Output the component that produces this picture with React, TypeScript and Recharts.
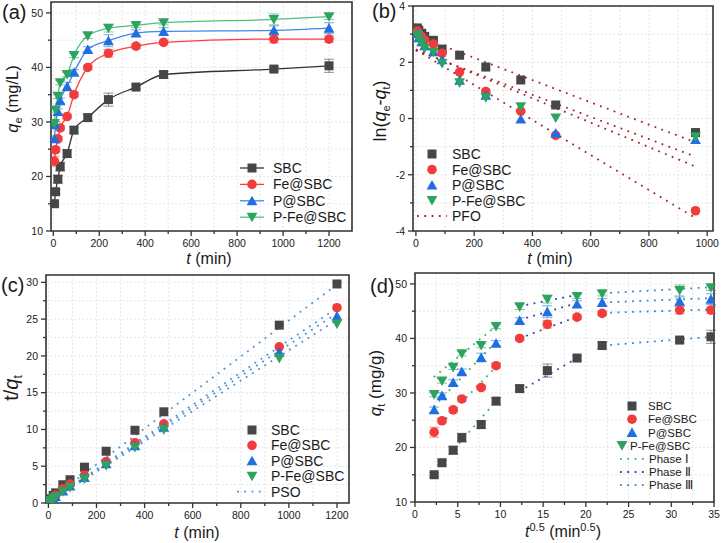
import React from "react";
import {
  ComposedChart,
  Scatter,
  Line,
  XAxis,
  YAxis,
  CartesianGrid,
  ReferenceArea,
  ErrorBar,
} from "recharts";

const FONT = '"Liberation Sans", Arial, Helvetica, sans-serif';
const INK = "#333333";

// sampling times (min) and their square roots
const times = [5, 10, 20, 30, 60, 90, 150, 240, 360, 480, 960, 1200];
const sqrtTimes = [2.24, 3.16, 4.47, 5.48, 7.75, 9.49, 12.25, 15.49, 18.97, 21.91, 30.98, 34.64];

// (a)/(d) adsorbed amount qt
const qSBC = [15.0, 17.2, 19.5, 21.8, 24.2, 28.5, 30.8, 34.1, 36.4, 38.7, 39.7, 40.3];
const qFe = [22.8, 24.9, 26.9, 28.9, 31.0, 35.0, 40.0, 42.6, 43.9, 44.6, 45.2, 45.2];
const qP = [26.9, 29.5, 31.9, 33.9, 36.5, 39.1, 43.3, 44.9, 46.3, 46.6, 46.8, 47.2];
const qPFe = [29.7, 32.2, 34.7, 37.2, 38.7, 42.2, 45.8, 47.2, 47.7, 48.2, 48.8, 49.3];

const errSBC = [0.4, 0.4, 0.7, 0.8, 0.7, 0.6, 0.6, 1.2, 0.4, 0.6, 0.4, 1.2];
const errFe = [0.9, 0.4, 0.4, 0.4, 0.4, 0.4, 0.4, 0.7, 0.4, 0.4, 0.7, 0.6];
const errP = [0.5, 0.5, 0.5, 0.5, 0.8, 0.5, 0.5, 1.1, 0.6, 0.7, 0.8, 1.0];
const errPFe = [0.4, 0.4, 0.4, 0.4, 0.4, 0.4, 0.5, 0.7, 0.4, 0.4, 1.0, 0.5];

// (b) ln(qe - qt), t = 5 ... 960
const lnSBC = [3.22, 3.14, 3.03, 2.92, 2.78, 2.47, 2.25, 1.83, 1.37, 0.48, -0.5];
const lnFe = [3.11, 3.01, 2.91, 2.79, 2.65, 2.32, 1.65, 0.96, 0.26, -0.6, -3.28];
const lnP = [3.01, 2.87, 2.73, 2.59, 2.37, 2.09, 1.36, 0.83, -0.02, -0.52, -0.75];
const lnPFe = [2.98, 2.84, 2.68, 2.49, 2.36, 1.96, 1.27, 0.74, 0.42, 0.02, -0.65];

// PFO fit lines (t = 0 and 960)
const pfoT = [0, 960];
const pfoSBC = [2.95, -0.85];
const pfoFe = [2.44, -3.54];
const pfoP = [2.46, -1.71];
const pfoPFe = [2.42, -1.36];

// (c) t/qt
const tqSBC = [0.33, 0.58, 1.03, 1.38, 2.48, 3.16, 4.87, 7.04, 9.89, 12.4, 24.18, 29.78];
const tqFe = [0.22, 0.4, 0.74, 1.04, 1.94, 2.57, 3.75, 5.63, 8.2, 10.76, 21.24, 26.55];
const tqP = [0.19, 0.34, 0.63, 0.88, 1.64, 2.3, 3.46, 5.35, 7.78, 10.3, 20.51, 25.42];
const tqPFe = [0.17, 0.31, 0.58, 0.81, 1.55, 2.13, 3.28, 5.08, 7.55, 9.96, 19.67, 24.34];

// PSO fit lines (t = 0 and 1200)
const psoT = [0, 1200];
const psoSBC = [0.35, 29.7];
const psoFe = [0.2, 26.5];
const psoP = [0.15, 25.8];
const psoPFe = [0.12, 24.9];

// (d) intraparticle diffusion segments
const ph1X = [[2.9, 10], [3.0, 10], [2.2, 9.6], [2.2, 9.6]];
const ph1Y = [[16.7, 29.4], [24.3, 35.6], [27.5, 39.6], [32.9, 42.4]];
const ph2X = [12.2, 19.0];
const ph2Y = [[30.3, 36.4], [40.0, 44.0], [43.4, 46.5], [45.9, 48.0]];
const ph3X = [22.0, 34.8];
const ph3Y = [[38.7, 40.3], [44.7, 45.3], [46.6, 47.4], [48.3, 49.4]];

// tick labels
const tA = [0, 200, 400, 600, 800, 1000, 1200];
const tAminor = [100, 300, 500, 700, 900, 1100];
const tB = [0, 200, 400, 600, 800, 1000];
const tBminor = [100, 300, 500, 700, 900];
const qTicks = [10, 20, 30, 40, 50];
const qMinor = [15, 25, 35, 45];
const lnTicks = [-4, -2, 0, 2, 4];
const lnMinor = [-3, -1, 1, 3];
const tqTicks = [0, 5, 10, 15, 20, 25, 30];
const tqMinor = [2.5, 7.5, 12.5, 17.5, 22.5, 27.5];
const sTicks = [0, 5, 10, 15, 20, 25, 30, 35];
const sMinor = [2.5, 7.5, 12.5, 17.5, 22.5, 27.5, 32.5];

const names = ["SBC", "Fe@SBC", "P@SBC", "P-Fe@SBC"];
type Kind = "square" | "circle" | "up" | "down";
const kinds: Kind[] = ["square", "circle", "up", "down"];
const markColors = ["#464646", "#f23c3c", "#1f6fe0", "#2ea35f"];
const lineColors = ["#333333", "#ff3b3b", "#3f86ec", "#4cc17f"];
const PFO = "#a0252f";
const PSO = "#4a90d9";
const phaseColors = ["#33b36b", "#353f9e", "#2f84cf"];
const DOTS = "1.8 5.5";

const pts = (xs: number[], ys: number[], es?: number[]) =>
  ys.map((y, i) => ({ x: xs[i], y, e: es ? es[i] : 0 }));

function Mark({ kind, cx, cy, color, s = 9 }: { kind: Kind; cx?: number; cy?: number; color: string; s?: number }) {
  if (cx == null || cy == null) return null;
  const h = s / 2;
  if (kind === "square") return <rect x={cx - h} y={cy - h} width={s} height={s} fill={color} />;
  if (kind === "circle") return <circle cx={cx} cy={cy} r={h + 0.3} fill={color} />;
  if (kind === "up")
    return <polygon points={`${cx},${cy - h - 0.6} ${cx + h + 0.9},${cy + h} ${cx - h - 0.9},${cy + h}`} fill={color} />;
  return <polygon points={`${cx - h - 0.9},${cy - h} ${cx + h + 0.9},${cy - h} ${cx},${cy + h + 0.6}`} fill={color} />;
}

const xTick = (majors: number[]) => (p: any) => {
  const major = majors.includes(p.payload.value);
  return (
    <g>
      <line x1={p.x} x2={p.x} y1={p.y} y2={p.y + (major ? 5 : 3)} stroke={INK} strokeWidth={1.3} />
      {major && (
        <text x={p.x} y={p.y + 16} textAnchor="middle" fontSize={10.5} fill="#1a1a1a" fontFamily={FONT}>
          {p.payload.value}
        </text>
      )}
    </g>
  );
};

const yTick = (majors: number[]) => (p: any) => {
  const major = majors.includes(p.payload.value);
  return (
    <g>
      <line x1={p.x} x2={p.x - (major ? 5 : 3)} y1={p.y} y2={p.y} stroke={INK} strokeWidth={1.3} />
      {major && (
        <text x={p.x - 8} y={p.y} dy="0.36em" textAnchor="end" fontSize={10.5} fill="#1a1a1a" fontFamily={FONT}>
          {p.payload.value}
        </text>
      )}
    </g>
  );
};

type LegRow = { label: React.ReactNode; kind?: Kind; color?: string; line?: string; dash?: string; mx?: number; tx?: number };

function LegendSvg({ w, h, rows, y0, dy, mx, lx1, lx2, tx, fs }: {
  w: number; h: number; rows: LegRow[]; y0: number; dy: number; mx: number; lx1: number; lx2: number; tx: number; fs: number;
}) {
  return (
    <svg width={w} height={h} style={{ position: "absolute", left: 0, top: 0, pointerEvents: "none" }}>
      {rows.map((r, i) => {
        const y = y0 + i * dy;
        return (
          <g key={i}>
            {r.line && (
              <line x1={lx1} x2={lx2} y1={y} y2={y} stroke={r.line} strokeWidth={r.dash ? 1.8 : 1.3} strokeDasharray={r.dash} />
            )}
            {r.kind && <Mark kind={r.kind} cx={r.mx ?? mx} cy={y} color={r.color!} />}
            <text x={r.tx ?? tx} y={y} dy="0.36em" fontSize={fs} fill="#1a1a1a" fontFamily={FONT}>
              {r.label}
            </text>
          </g>
        );
      })}
    </svg>
  );
}

function Panel(props: {
  left: number; top: number; w: number; h: number;
  margin: { top: number; right: number; bottom: number; left: number };
  yW: number; xH: number;
  xDomain: [number, number]; yDomain: [number, number];
  xMajor: number[]; xMinor: number[]; yMajor: number[]; yMinor: number[];
  xTitle: (p: any) => React.ReactNode; yTitle: (p: any) => React.ReactNode;
  tag: string; tagX: number; tagY: number;
  children: React.ReactNode; legend: React.ReactNode;
}) {
  const { xDomain, yDomain } = props;
  return (
    <div style={{ position: "absolute", left: props.left, top: props.top, width: props.w, height: props.h }}>
      <ComposedChart width={props.w} height={props.h} margin={props.margin}>
        <CartesianGrid stroke="#e6e6e6" strokeDasharray="2 2" />
        <XAxis
          type="number" dataKey="x" domain={xDomain} allowDataOverflow
          ticks={[...props.xMajor, ...props.xMinor].sort((a, b) => a - b)} interval={0}
          height={props.xH} tickSize={0} tickMargin={0} tickLine={false} axisLine={false}
          tick={xTick(props.xMajor)} label={props.xTitle}
        />
        <YAxis
          type="number" dataKey="y" domain={yDomain} allowDataOverflow
          ticks={[...props.yMajor, ...props.yMinor].sort((a, b) => a - b)} interval={0}
          width={props.yW} tickSize={0} tickMargin={0} tickLine={false} axisLine={false}
          tick={yTick(props.yMajor)} label={props.yTitle}
        />
        <ReferenceArea
          x1={xDomain[0]} x2={xDomain[1]} y1={yDomain[0]} y2={yDomain[1]}
          fill="none" fillOpacity={0} stroke={INK} strokeWidth={1.6} ifOverflow="visible"
        />
        {props.children}
      </ComposedChart>
      {props.legend}
      <div
        style={{
          position: "absolute", left: props.tagX, top: props.tagY, fontFamily: FONT, fontSize: 20,
          lineHeight: "20px", color: "#1a1a1a", whiteSpace: "nowrap",
        }}
      >
        {props.tag}
      </div>
    </div>
  );
}

const title = (x: number, y: number, rotate: boolean, body: React.ReactNode, fs = 16) => () => (
  <text
    x={x} y={y} textAnchor="middle" fontSize={fs} fill="#1a1a1a" fontFamily={FONT}
    transform={rotate ? `rotate(-90, ${x}, ${y})` : undefined}
  >
    {body}
  </text>
);

const scatterSet = (xs: number[], ys: number[][], errs?: number[][]) =>
  ys.map((y, i) => (
    <Scatter
      key={`s${i}`} name={names[i]} data={pts(xs, y, errs ? errs[i] : undefined)} dataKey="y"
      isAnimationActive={false}
      shape={(p: any) => <Mark kind={kinds[i]} cx={p.cx} cy={p.cy} color={markColors[i]} />}
    >
      {errs && <ErrorBar dataKey="e" direction="y" width={5} stroke={markColors[i]} strokeWidth={1} strokeOpacity={0.6} />}
    </Scatter>
  ));

const fitLine = (key: string, xs: number[], ys: number[], color: string, dash = DOTS) => (
  <Line
    key={key} data={pts(xs, ys)} dataKey="y" type="linear" stroke={color} strokeWidth={1.8}
    strokeDasharray={dash} dot={false} activeDot={false} isAnimationActive={false} legendType="none"
  />
);

export default function App() {
  const qAll = [qSBC, qFe, qP, qPFe];
  const errAll = [errSBC, errFe, errP, errPFe];
  const seriesRows: LegRow[] = names.map((n, i) => ({ label: n, kind: kinds[i], color: markColors[i] }));

  return (
    <div style={{ position: "absolute", left: 0, top: 0, width: 721, height: 543, background: "#fff", overflow: "hidden" }}>
      {/* (a) */}
      <Panel
        left={0} top={0} w={360} h={270} margin={{ top: 2, right: 8, bottom: 0, left: 0 }} yW={51} xH={39}
        xDomain={[-10, 1300]} yDomain={[10, 52]} xMajor={tA} xMinor={tAminor} yMajor={qTicks} yMinor={qMinor}
        xTitle={title(209, 264, false, <><tspan fontStyle="italic">t</tspan> (min)</>)}
        yTitle={title(18, 99, true, <><tspan fontStyle="italic">q</tspan><tspan fontSize={11} dy={4}>e</tspan><tspan dy={-4}> (mg/L)</tspan></>, 16.5)}
        tag="(a)" tagX={2} tagY={2}
        legend={
          <LegendSvg
            w={360} h={270} y0={168} dy={16.4} mx={252} lx1={240} lx2={264} tx={273} fs={14}
            rows={names.map((n, i) => ({ label: n, kind: kinds[i], color: markColors[i], line: lineColors[i] }))}
          />
        }
      >
        {qAll.map((y, i) => (
          <Line
            key={`c${i}`} data={pts(times, y)} dataKey="y" type="monotone" stroke={lineColors[i]} strokeWidth={1.3}
            dot={false} activeDot={false} isAnimationActive={false}
          />
        ))}
        {scatterSet(times, qAll, errAll)}
      </Panel>

      {/* (b) */}
      <Panel
        left={360} top={0} w={361} h={270} margin={{ top: 6, right: 8, bottom: 0, left: 0 }} yW={53} xH={39}
        xDomain={[-10, 1020]} yDomain={[-4, 4]} xMajor={tB} xMinor={tBminor} yMajor={lnTicks} yMinor={lnMinor}
        xTitle={title(190, 264, false, <><tspan fontStyle="italic">t</tspan> (min)</>)}
        yTitle={title(26, 111, true, <>ln(<tspan fontStyle="italic">q</tspan><tspan fontSize={11} dy={4}>e</tspan><tspan dy={-4}>-</tspan><tspan fontStyle="italic">q</tspan><tspan fontSize={11} dy={4}>t</tspan><tspan dy={-4}>)</tspan></>, 18)}
        tag="(b)" tagX={12} tagY={1}
        legend={
          <LegendSvg
            w={361} h={270} y0={154} dy={15.5} mx={72} lx1={57} lx2={87} tx={92} fs={14}
            rows={[...seriesRows, { label: "PFO", line: PFO, dash: DOTS }]}
          />
        }
      >
        {fitLine("f0", pfoT, pfoSBC, PFO)}
        {fitLine("f1", pfoT, pfoFe, PFO)}
        {fitLine("f2", pfoT, pfoP, PFO)}
        {fitLine("f3", pfoT, pfoPFe, PFO)}
        {scatterSet(times.slice(0, 11), [lnSBC, lnFe, lnP, lnPFe])}
      </Panel>

      {/* (c) */}
      <Panel
        left={0} top={270} w={360} h={273} margin={{ top: 5, right: 11, bottom: 0, left: 0 }} yW={46} xH={40}
        xDomain={[-10, 1250]} yDomain={[0, 31]} xMajor={tA} xMinor={tAminor} yMajor={tqTicks} yMinor={tqMinor}
        xTitle={title(197, 268, false, <><tspan fontStyle="italic">t</tspan> (min)</>)}
        yTitle={title(18, 118, true, <>t/<tspan fontStyle="italic">q</tspan><tspan fontSize={12} dy={4}>t</tspan></>, 20)}
        tag="(c)" tagX={1} tagY={5}
        legend={
          <LegendSvg
            w={360} h={273} y0={160} dy={15.4} mx={252} lx1={237} lx2={264} tx={271} fs={14}
            rows={[...seriesRows, { label: "PSO", line: PSO, dash: DOTS }]}
          />
        }
      >
        {fitLine("p0", psoT, psoSBC, PSO)}
        {fitLine("p1", psoT, psoFe, PSO)}
        {fitLine("p2", psoT, psoP, PSO)}
        {fitLine("p3", psoT, psoPFe, PSO)}
        {scatterSet(times, [tqSBC, tqFe, tqP, tqPFe])}
      </Panel>

      {/* (d) */}
      <Panel
        left={360} top={270} w={361} h={273} margin={{ top: 3, right: 7, bottom: 0, left: 0 }} yW={55} xH={41}
        xDomain={[0, 35]} yDomain={[10, 52]} xMajor={sTicks} xMinor={sMinor} yMajor={qTicks} yMinor={qMinor}
        xTitle={title(203, 267, false, <><tspan fontStyle="italic">t</tspan><tspan fontSize={11} dy={-6}>0.5</tspan><tspan dy={6}> (min</tspan><tspan fontSize={11} dy={-6}>0.5</tspan><tspan dy={6}>)</tspan></>)}
        yTitle={title(21, 113, true, <><tspan fontStyle="italic">q</tspan><tspan fontSize={11} dy={4}>t</tspan><tspan dy={-4}> (mg/g)</tspan></>, 17)}
        tag="(d)" tagX={10} tagY={6}
        legend={
          <LegendSvg
            w={361} h={273} y0={136} dy={13.2} mx={272} lx1={260} lx2={284} tx={288} fs={11.5}
            rows={[
              seriesRows[0],
              seriesRows[1],
              seriesRows[2],
              { ...seriesRows[3], mx: 262, tx: 270 },
              { label: "Phase Ⅰ", line: phaseColors[0], dash: DOTS, tx: 289 },
              { label: "Phase Ⅱ", line: phaseColors[1], dash: DOTS, tx: 289 },
              { label: "Phase Ⅲ", line: phaseColors[2], dash: DOTS, tx: 289 },
            ]}
          />
        }
      >
        {ph1Y.map((y, i) => fitLine(`a${i}`, ph1X[i], y, phaseColors[0]))}
        {ph2Y.map((y, i) => fitLine(`b${i}`, ph2X, y, phaseColors[1]))}
        {ph3Y.map((y, i) => fitLine(`c${i}`, ph3X, y, phaseColors[2]))}
        {scatterSet(sqrtTimes, qAll, errAll)}
      </Panel>
    </div>
  );
}
